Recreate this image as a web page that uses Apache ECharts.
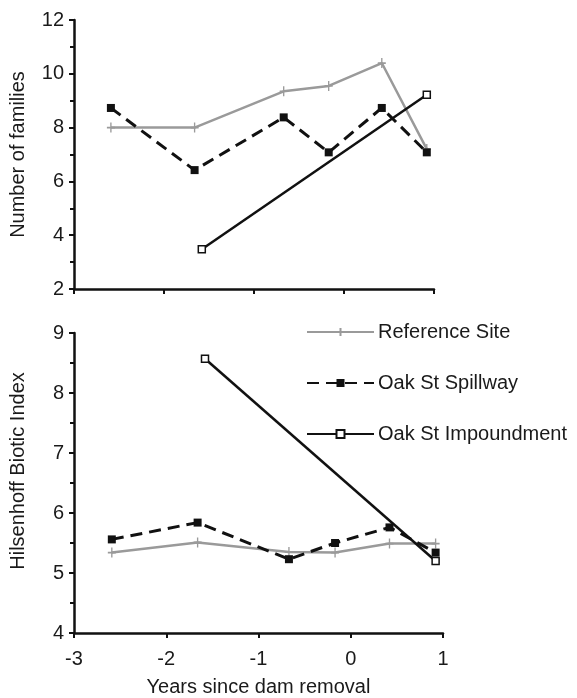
<!DOCTYPE html>
<html>
<head>
<meta charset="utf-8">
<script src="https://cdn.jsdelivr.net/npm/echarts@6/dist/echarts.min.js"></script>
<style>
  html, body { margin: 0; padding: 0; background: #fff; }
  #chart { width: 577px; height: 698px; }
</style>
</head>
<body>
<div id="chart"></div>
<script>
// Years relative to dam removal for each sampling event
const yearsRef = [-2.59, -1.66, -0.67, -0.17, 0.42, 0.92];
const yearsSpill = [-2.59, -1.66, -0.67, -0.17, 0.42, 0.92];
const yearsImp = [-1.58, 0.92];

// Number of macroinvertebrate families
const famRef = [8.0, 8.0, 9.35, 9.55, 10.4, 7.2];
const famSpill = [8.73, 6.42, 8.38, 7.08, 8.73, 7.08];
const famImp = [3.48, 9.22];

// Hilsenhoff Biotic Index
const hbiRef = [5.34, 5.51, 5.35, 5.34, 5.49, 5.49];
const hbiSpill = [5.56, 5.84, 5.23, 5.5, 5.76, 5.34];
const hbiImp = [8.57, 5.2];

const seriesNames = ['Reference Site', 'Oak St Spillway', 'Oak St Impoundment'];

const FONT = 'Liberation Sans, Arial, sans-serif';
const pairs = (xs, ys) => xs.map((x, i) => [x, ys[i]]);

const plusSymbol = 'path://M0,5L10,5M5,0L5,10';

function makeSeries(idx, name, data) {
  const common = { name, type: 'line', xAxisIndex: idx, yAxisIndex: idx, data, z: 3 };
  if (name === seriesNames[0]) {
    return Object.assign(common, {
      symbol: plusSymbol, symbolSize: [8, 10],
      lineStyle: { color: '#9a9a9a', width: 2.5 },
      itemStyle: { color: '#9a9a9a', borderColor: '#9a9a9a', borderWidth: 1.5 }
    });
  }
  if (name === seriesNames[1]) {
    return Object.assign(common, {
      symbol: 'rect', symbolSize: 8,
      lineStyle: { color: '#111', width: 3, type: [12, 7] },
      itemStyle: { color: '#111', borderColor: '#111', borderWidth: 0 }
    });
  }
  return Object.assign(common, {
    symbol: 'rect', symbolSize: 7,
    lineStyle: { color: '#111', width: 2.5 },
    itemStyle: { color: '#fff', borderColor: '#111', borderWidth: 1.5 }
  });
}

const axisLine = { show: true, onZero: false, lineStyle: { color: '#111', width: 2.5 } };
const axisTick = { show: true, inside: false, length: 5, lineStyle: { color: '#111', width: 2 } };
const minorTick = { show: true, splitNumber: 2, length: 4, lineStyle: { color: '#111', width: 2 } };
const labelStyle = { color: '#1a1a1a', fontSize: 20, fontFamily: FONT };
const nameStyle = { color: '#1a1a1a', fontSize: 20, fontFamily: FONT };

const chart = echarts.init(document.getElementById('chart'), null, { renderer: 'canvas' });

chart.setOption({
  backgroundColor: '#fff',
  animation: false,
  grid: [
    { left: 72, top: 20, width: 362, height: 269 },
    { left: 72, top: 333, width: 371, height: 301 }
  ],
  legend: {
    data: seriesNames,
    orient: 'vertical',
    left: 301, top: 317,
    itemWidth: 67, itemHeight: 10, itemGap: 31,
    textStyle: { color: '#1a1a1a', fontSize: 20, fontFamily: FONT, padding: [0, 0, 0, -1] },
    selectedMode: false
  },
  xAxis: [
    {
      gridIndex: 0, type: 'value', min: -3, max: 1, interval: 1,
      axisLine, axisTick, axisLabel: { show: false }, splitLine: { show: false }
    },
    {
      gridIndex: 1, type: 'value', min: -3, max: 1, interval: 1,
      axisLine, axisTick,
      axisLabel: Object.assign({ margin: 16 }, labelStyle),
      splitLine: { show: false },
      name: 'Years since dam removal', nameLocation: 'middle', nameGap: 44,
      nameTextStyle: nameStyle
    }
  ],
  yAxis: [
    {
      gridIndex: 0, type: 'value', min: 2, max: 12, interval: 2,
      axisLine, axisTick, minorTick,
      axisLabel: Object.assign({ margin: 10 }, labelStyle),
      splitLine: { show: false }, minorSplitLine: { show: false },
      name: 'Number of families', nameLocation: 'middle', nameGap: 46,
      nameTextStyle: nameStyle
    },
    {
      gridIndex: 1, type: 'value', min: 4, max: 9, interval: 1,
      axisLine, axisTick, minorTick,
      axisLabel: Object.assign({ margin: 10 }, labelStyle),
      splitLine: { show: false }, minorSplitLine: { show: false },
      name: 'Hilsenhoff Biotic Index', nameLocation: 'middle', nameGap: 46,
      nameTextStyle: Object.assign({ padding: [0, 0, 0, 24] }, nameStyle)
    }
  ],
  series: [
    makeSeries(0, seriesNames[0], pairs(yearsRef, famRef)),
    makeSeries(0, seriesNames[1], pairs(yearsSpill, famSpill)),
    makeSeries(0, seriesNames[2], pairs(yearsImp, famImp)),
    makeSeries(1, seriesNames[0], pairs(yearsRef, hbiRef)),
    makeSeries(1, seriesNames[1], pairs(yearsSpill, hbiSpill)),
    makeSeries(1, seriesNames[2], pairs(yearsImp, hbiImp))
  ]
});
</script>
</body>
</html>
